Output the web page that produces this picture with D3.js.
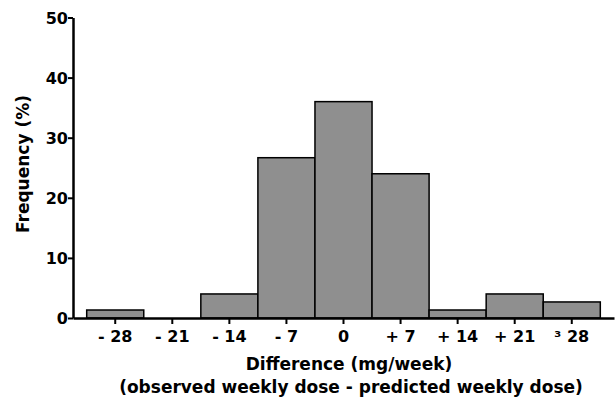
<!DOCTYPE html>
<html>
<head>
<meta charset="utf-8">
<script src="https://cdn.jsdelivr.net/npm/d3@7"></script>
<style>
  body { margin: 0; background: #fff; }
  text { font-family: "DejaVu Sans", "Liberation Sans", sans-serif; font-weight: bold; fill: #000; }
</style>
</head>
<body>
<div id="plot"></div>
<script>
// Histogram bins (mg/week difference) and frequency (%)
const bins = ['- 28', '- 21', '- 14', '- 7', '0', '+ 7', '+ 14', '+ 21', '³ 28'];
const frequency = [1.33, 0, 4, 26.67, 36, 24, 1.33, 4, 2.67];
const yTicks = [0, 10, 20, 30, 40, 50];

const margin = {top: 17.5, right: 2, bottom: 79, left: 73},
  width = 616 - margin.left - margin.right,
  height = 397 - margin.top - margin.bottom;

const svg = d3.select("#plot")
  .append("svg")
    .attr("width", 616)
    .attr("height", 397)
  .append("g")
    .attr("transform", "translate(" + margin.left + "," + margin.top + ")");

const x = d3.scaleBand()
  .domain(bins)
  .range([0, width])
  .paddingInner(0)
  .paddingOuter(0.24);

const y = d3.scaleLinear()
  .domain([0, 50])
  .range([height, 0]);

// Bars
svg.append('g')
  .selectAll("rect")
  .data(bins.map((b, i) => [b, frequency[i]]))
  .enter()
  .append("rect")
    .attr("x", d => x(d[0]))
    .attr("y", d => y(d[1]))
    .attr("width", x.bandwidth())
    .attr("height", d => y(0) - y(d[1]))
    .attr("fill", "#8f8f8f")
    .attr("stroke", "#000")
    .attr("stroke-width", 1.5);

// Y axis
const yAxis = svg.append("g")
  .call(d3.axisLeft(y).tickValues(yTicks).tickSize(5).tickSizeOuter(0));
yAxis.select(".domain").attr("stroke-width", 2.5);
yAxis.selectAll(".tick line").attr("stroke-width", 2);
yAxis.selectAll(".tick text")
  .style("font-size", "16px")
  .attr("x", -5)
  .attr("dy", "0.36em");

// X axis
const xAxis = svg.append("g")
  .attr("transform", "translate(0," + height + ")")
  .call(d3.axisBottom(x).tickSize(6).tickSizeOuter(0));
xAxis.select(".domain").attr("stroke-width", 2.5);
xAxis.selectAll(".tick line").attr("stroke-width", 2);
xAxis.selectAll(".tick text")
  .style("font-size", "16px")
  .attr("y", 24)
  .attr("dy", 0);

// Axis titles
svg.append("text")
  .attr("transform", "rotate(-90)")
  .attr("x", -(164 - margin.top))
  .attr("y", 29 - margin.left)
  .attr("text-anchor", "middle")
  .style("font-size", "17px")
  .text("Frequency (%)");

svg.append("text")
  .attr("x", 349 - margin.left)
  .attr("y", 370 - margin.top)
  .attr("text-anchor", "middle")
  .style("font-size", "17px")
  .text("Difference (mg/week)");

svg.append("text")
  .attr("x", 351 - margin.left)
  .attr("y", 393 - margin.top)
  .attr("text-anchor", "middle")
  .style("font-size", "17px")
  .text("(observed weekly dose - predicted weekly dose)");
</script>
</body>
</html>
